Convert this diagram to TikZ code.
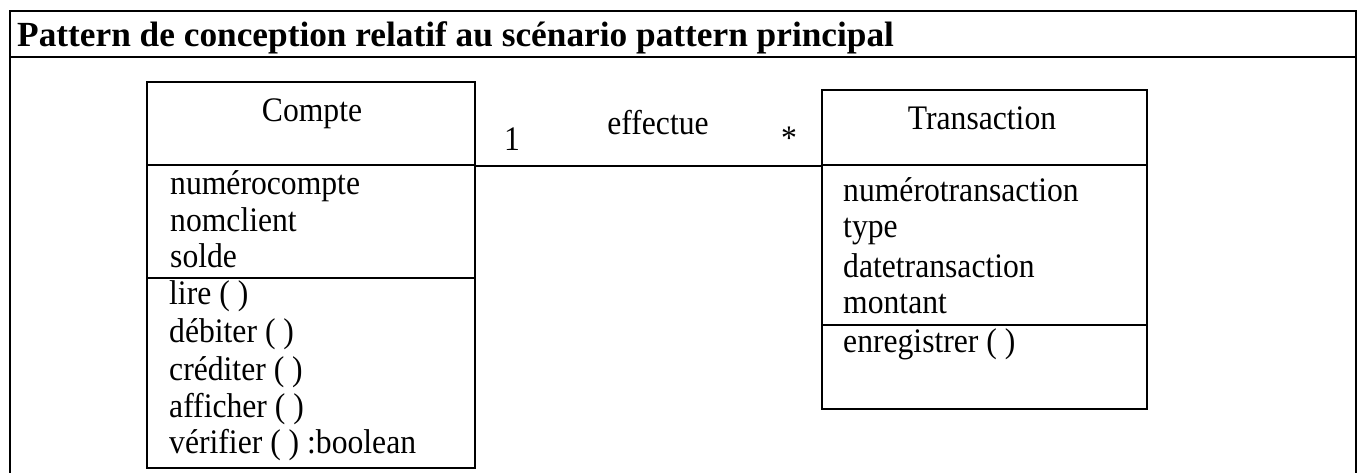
\documentclass[tikz,border=0pt]{standalone}
\usepackage{fontspec}
\setmainfont{Liberation Serif}
\newfontfamily\bodyfont{Liberation Serif}[FakeStretch=0.92]
\begin{document}
\begin{tikzpicture}[x=1pt,y=-1pt,
  frame/.style={line width=1.5pt},
  part/.style={draw, line width=1.6pt, rectangle, inner sep=0pt},
  txt/.style={inner sep=0pt, anchor=base west, font=\bodyfont\fontsize{34.4}{40}\selectfont},
  ctxt/.style={inner sep=0pt, anchor=base, font=\bodyfont\fontsize{34.4}{40}\selectfont},
  ttl/.style={inner sep=0pt, anchor=base west, font=\fontsize{35.3}{40}\selectfont\bfseries}
]
\useasboundingbox (0,0) rectangle (1358,473);
\fill[white] (0,0) rectangle (1358,473);
% outer frame
\draw[frame] (10,473) -- (10,11) -- (1356,11) -- (1356,473);
\draw[frame] (10,57) -- (1356,57);
\node[ttl] (title) at (17,47) {Pattern de conception relatif au scénario pattern principal};

% Compte class
\node[part, minimum width=328pt, minimum height=83pt] (cH) at (311,123.5) {};
\node[part, minimum width=328pt, minimum height=113pt] (cA) at (311,221.5) {};
\node[part, minimum width=328pt, minimum height=190pt] (cO) at (311,373) {};
\node[ctxt] (cname) at (312,122) {Compte};
\node[txt] (ca1) at (170,195) {numérocompte};
\node[txt] (ca2) at (170,232) {nomclient};
\node[txt] (ca3) at (170,268) {solde};
\node[txt] (co1) at (169,305) {lire ( )};
\node[txt] (co2) at (169,342) {débiter ( )};
\node[txt] (co3) at (169,380) {créditer ( )};
\node[txt] (co4) at (169,417) {afficher ( )};
\node[txt] (co5) at (169,453) {vérifier ( ) :boolean};

% Transaction class
\node[part, minimum width=325pt, minimum height=75pt] (tH) at (984.5,127.5) {};
\node[part, minimum width=325pt, minimum height=160pt] (tA) at (984.5,245) {};
\node[part, minimum width=325pt, minimum height=84pt] (tO) at (984.5,367) {};
\node[ctxt] (tname) at (982,130) {Transaction};
\node[txt] (ta1) at (843,202) {numérotransaction};
\node[txt] (ta2) at (843,238) {type};
\node[txt] (ta3) at (843,277) {datetransaction};
\node[txt] (ta4) at (843,313) {montant};
\node[txt] (to1) at (843,352) {enregistrer ( )};

% association
\draw[line width=1.6pt] (cH.south east) -- (tH.south west);
\node[txt] (m1) at (504,151) {1};
\node[ctxt] (assoc) at (658,135) {effectue};
\node[ctxt] (m2) at (789,150) {*};
\end{tikzpicture}
\end{document}
